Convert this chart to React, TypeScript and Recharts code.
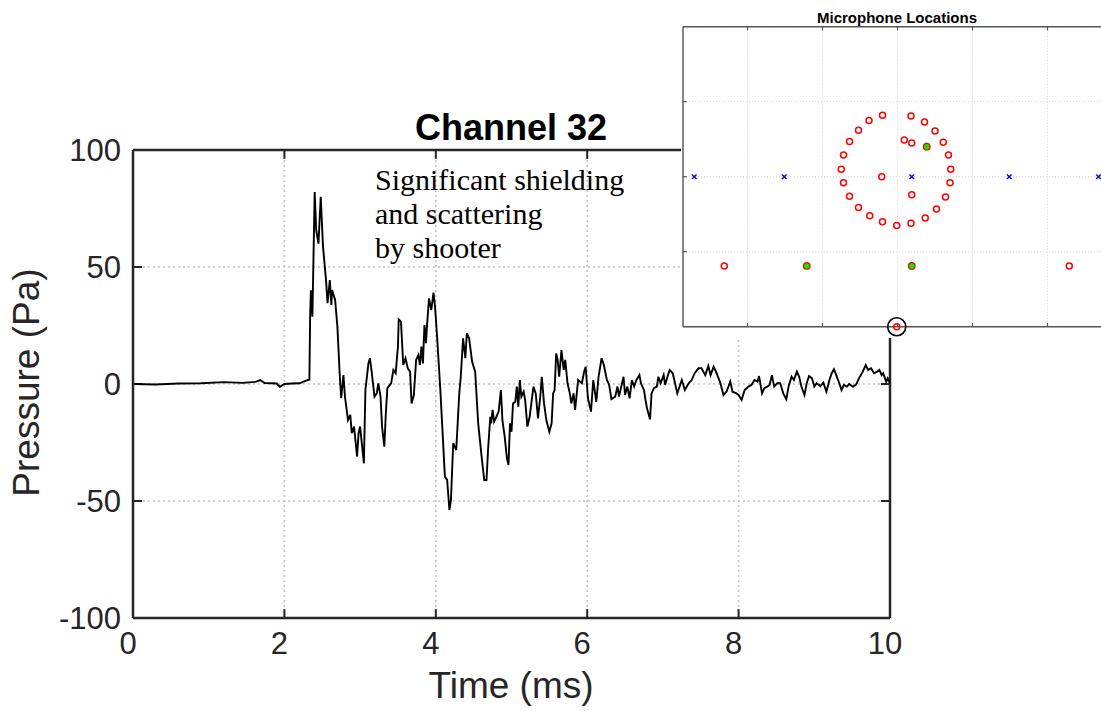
import React from 'react';
import {
  LineChart,
  Line,
  XAxis,
  YAxis,
  CartesianGrid,
  ReferenceLine,
  ScatterChart,
  Scatter,
} from 'recharts';

// ---------- main trace data (Channel 32) ----------
const timeMs = [
  0, 0.3, 0.6, 0.9, 1.2, 1.45, 1.62, 1.68, 1.74, 1.9, 1.94, 2.0, 2.1, 2.2, 2.27, 2.31, 2.33,
  2.34, 2.35, 2.37, 2.4, 2.42, 2.45, 2.48, 2.51, 2.55, 2.57, 2.6, 2.62, 2.63, 2.67, 2.7, 2.73,
  2.75, 2.78, 2.8, 2.84, 2.87, 2.89, 2.92, 2.96, 2.98, 3.0, 3.05, 3.07, 3.11, 3.13, 3.15, 3.19,
  3.22, 3.24, 3.27, 3.29, 3.32, 3.34, 3.36, 3.41, 3.44, 3.47, 3.5, 3.51, 3.54, 3.57, 3.6, 3.63,
  3.66, 3.68, 3.71, 3.74, 3.77, 3.79, 3.81, 3.83, 3.85, 3.87, 3.88, 3.91, 3.94, 3.97, 3.99, 4.02,
  4.06, 4.09, 4.12, 4.15, 4.18, 4.2, 4.23, 4.25, 4.27, 4.31, 4.33, 4.36, 4.39, 4.41, 4.44, 4.48,
  4.52, 4.56, 4.61, 4.64, 4.67, 4.69, 4.72, 4.73, 4.75, 4.77, 4.8, 4.83, 4.86, 4.88, 4.91, 4.94,
  4.96, 4.98, 5.0, 5.02, 5.05, 5.07, 5.09, 5.11, 5.13, 5.16, 5.18, 5.21, 5.24, 5.29, 5.32, 5.35,
  5.38, 5.4, 5.43, 5.46, 5.5, 5.53, 5.55, 5.57, 5.59, 5.61, 5.63, 5.66, 5.69, 5.71, 5.74, 5.77,
  5.79, 5.82, 5.84, 5.88, 5.93, 5.96, 5.98, 6.01, 6.05, 6.08, 6.12, 6.15, 6.19, 6.22, 6.26, 6.29,
  6.32, 6.37, 6.4, 6.42, 6.46, 6.48, 6.5, 6.53, 6.56, 6.59, 6.62, 6.65, 6.69, 6.71, 6.75, 6.77,
  6.79, 6.83, 6.85, 6.88, 6.92, 6.94, 6.97, 7.01, 7.03, 7.06, 7.09, 7.13, 7.16, 7.19, 7.25, 7.29,
  7.34, 7.38, 7.42, 7.47, 7.51, 7.56, 7.6, 7.63, 7.67, 7.71, 7.76, 7.8, 7.84, 7.89, 7.92, 7.97,
  8.0, 8.04, 8.08, 8.13, 8.17, 8.21, 8.25, 8.27, 8.31, 8.34, 8.38, 8.41, 8.44, 8.47, 8.51, 8.55,
  8.59, 8.63, 8.66, 8.7, 8.73, 8.77, 8.8, 8.83, 8.87, 8.9, 8.93, 8.97, 9.0, 9.03, 9.08, 9.12,
  9.16, 9.2, 9.23, 9.26, 9.29, 9.33, 9.36, 9.39, 9.43, 9.46, 9.51, 9.55, 9.59, 9.64, 9.68, 9.71,
  9.75, 9.79, 9.83, 9.86, 9.89, 9.91, 9.95, 9.97, 10.0,
];
const pressurePa = [
  0, -0.2, 0.2, 0.3, 0.8, 0.5, 0.9, 1.7, 0.4, 0.2, -1.2, 0.0, 0.2, 0.3, 1.2, 1.7, 1.8,
  28.8, 40, 28.8, 82, 65.8, 60, 80, 58.7, 44.4, 34.5, 44.4, 33.8, 40.2, 35.9, 24.5, 4.6,
  -6.1, 3.8, -5.4, -15.4, -13.2, -21, -18.2, -31, -21, -18.2, -33.9, -2.6, 8.8, 11, 6, -5.4,
  -4, 0.3, -5.4, -18.2, -26.8, -12.5, -1.8, 0.3, 6, 4.6, 16, 27.6, 26.6, 8.1, 11, 6.7,
  5.3, -8.3, -4.7, 10.3, 12.4, 8.1, 16, 8.8, 25.2, 17.4, 23.1, 36.6, 31.6, 39, 33, 18.8,
  -2.6, -21, -39.6, -41, -53.8, -49.6, -25.3, -26.8, -28.2, -4, 3.1, 19.5, 11, 21.7, 19.5, 9.5,
  5.3, -16.8, -32.5, -41, -41, -28.2, -14, -16.8, -11.1, -16.1, -14, -11.8, -2.6, -15.4, -22.5, -31.8,
  -34.6, -16.8, -20.4, -8.3, -7.6, -1.1, -9.7, 1.7, -5.4, -3.3, -6.8, -18.2, -14, -1.1, -4, -14.7,
  -5.4, 3.1, -8.3, -15.4, -20.4, -16.8, -4, -2.6, 13.1, 10.3, 3.1, 14.5, 6, 10.3, 0.3, -4,
  -8.3, -4, -11.1, 1.7, 0.3, 5.3, 7.4, -6.1, -11.8, 1.7, -7.6, 3.1, 11, 8.1, 1.7, -0.4,
  -6.5, -5.4, -1.1, -5.4, 0.3, 3.1, -4.7, -1.1, -6.1, 1.7, -1.1, 1.7, 3.8, 0.3, -2.6, -6.8,
  -10.4, -15.1, -4, -1.8, -1.1, 3.1, 0.3, 3.8, -0.4, 3.1, 6, 4.6, 0.3, -4, 1.7, -2.6,
  0.3, 1.7, 4.6, 6.7, 6.7, 3.8, 7.7, 3.8, 7.4, 4.6, 0.3, -4.7, -3.3, 1, -3.3, -4,
  -4.7, -6.8, -2.6, -1.1, -0.4, 1.7, 1, 3.4, -4, -1.8, -1.1, -0.4, 3.8, -1.1, 0.3, 0.3,
  -4, -6.5, -1.1, 3.1, 1.7, 5.3, 3.1, -1.1, -4.7, 0.3, 3.4, 2.4, -1.1, 0.3, -0.9, 0.6,
  -3.3, 1.7, 4.6, 6.3, 3.8, 0.3, -2.6, -0.4, -1.1, 0, -1.1, -0.4, 2.4, 5.3, 8.1, 6,
  6.7, 4.6, 5.3, 6, 3.8, 4.6, 1, 2.4, 0.3,
];
const xTicks = [0, 2, 4, 6, 8, 10];
const yTicks = [-100, -50, 0, 50, 100];
const xInnerTicks = [2, 4, 6, 8];
const yInnerTicks = [-50, 0, 50];

// ---------- inset: microphone locations ----------
const micRedX = [
  -0.2, 0.18, -0.38, 0.36, -0.52, 0.5, -0.64, 0.61, -0.72, 0.68, -0.75, 0.71, -0.72, 0.7, -0.64, 0.64,
  -0.52, 0.52, -0.37, 0.37, -0.2, 0.18, -0.01, 0.09, 0.19, -0.21, 0.19, -2.31, 2.29,
];
const micRedY = [
  0.82, 0.81, 0.75, 0.73, 0.62, 0.61, 0.47, 0.46, 0.29, 0.29, 0.1, 0.1, -0.08, -0.08, -0.26, -0.27,
  -0.41, -0.43, -0.52, -0.55, -0.6, -0.62, -0.65, 0.49, 0.45, 0.0, -0.24, -1.19, -1.19,
];
const micGreenX = [0.39, -1.21, 0.19];
const micGreenY = [0.4, -1.19, -1.19];
const sourceX = [-2.71, -1.51, 0.19, 1.49, 2.68];
const sourceY = [0, 0, 0, 0, 0];
const selectedX = [-0.01];
const selectedY = [-2.0];
const insetXTicks = [-2, -1, 0, 1, 2];
const insetYTicks = [-1, 0, 1];

const SANS = '"Liberation Sans", Arial, Helvetica, sans-serif';
const SERIF = '"Liberation Serif", "Times New Roman", serif';
const AX = '#262626';

const lineData = timeMs.map((t, i) => ({ t, p: pressurePa[i] }));
const zip = (xs: number[], ys: number[]) => xs.map((x, i) => ({ x, y: ys[i] }));
const redData = zip(micRedX, micRedY);
const greenData = zip(micGreenX, micGreenY);
const blueData = zip(sourceX, sourceY);
const selData = zip(selectedX, selectedY);

const RedShape = (p: any) => (
  <circle cx={p.cx} cy={p.cy} r={3} fill="none" stroke="#ff0000" strokeWidth={1.5} />
);
const GreenShape = (p: any) => (
  <circle cx={p.cx} cy={p.cy} r={3.3} fill="#00ee00" stroke="#ff0000" strokeWidth={1.2} />
);
const BlueShape = (p: any) => (
  <g stroke="#0000ff" strokeWidth={1.4}>
    <line x1={p.cx - 2.3} y1={p.cy - 2.3} x2={p.cx + 2.3} y2={p.cy + 2.3} />
    <line x1={p.cx - 2.3} y1={p.cy + 2.3} x2={p.cx + 2.3} y2={p.cy - 2.3} />
  </g>
);
const SelShape = (p: any) => (
  <g>
    <circle cx={p.cx} cy={p.cy} r={3} fill="none" stroke="#ff0000" strokeWidth={1.5} />
    <circle cx={p.cx} cy={p.cy} r={9} fill="none" stroke="#000" strokeWidth={1.6} />
  </g>
);

const TICK_X = 0.12; // inward tick length in ms
const TICK_Y = 3.8; // inward tick length in Pa
const ITICK = 0.05; // inset tick length

export default function App() {
  return (
    <div
      style={{
        position: 'absolute',
        left: 0,
        top: 0,
        width: 1101,
        height: 711,
        overflow: 'hidden',
        background: '#fff',
      }}
    >
      <div style={{ position: 'absolute', left: 0, top: 0 }}>
        <LineChart
          width={1101}
          height={711}
          data={lineData}
          margin={{ top: 150, right: 211, bottom: 63, left: 73 }}
        >
          <CartesianGrid stroke="#c4c4c4" strokeDasharray="2 3" strokeWidth={1.6} />
          <XAxis
            type="number"
            dataKey="t"
            domain={[0, 10]}
            ticks={xTicks}
            interval={0}
            height={30}
            tickSize={0}
            tickLine={false}
            tickMargin={14}
            axisLine={{ stroke: AX, strokeWidth: 2.5 }}
            tick={{ fontSize: 31, fill: AX, fontFamily: SANS, dx: -5 }}
          />
          <YAxis
            type="number"
            domain={[-100, 100]}
            ticks={yTicks}
            interval={0}
            width={60}
            tickSize={0}
            tickLine={false}
            tickMargin={12}
            axisLine={{ stroke: AX, strokeWidth: 2.5 }}
            tick={{ fontSize: 31, fill: AX, fontFamily: SANS }}
          />
          <ReferenceLine y={100} stroke={AX} strokeWidth={2.5} />
          <ReferenceLine x={10} stroke={AX} strokeWidth={2.5} />
          {xInnerTicks.map((v) => (
            <ReferenceLine
              key={'bt' + v}
              segment={[{ x: v, y: -100 }, { x: v, y: -100 + TICK_Y }]}
              stroke={AX}
              strokeWidth={2}
            />
          ))}
          {xInnerTicks.map((v) => (
            <ReferenceLine
              key={'tt' + v}
              segment={[{ x: v, y: 100 }, { x: v, y: 100 - TICK_Y }]}
              stroke={AX}
              strokeWidth={2}
            />
          ))}
          {yInnerTicks.map((v) => (
            <ReferenceLine
              key={'lt' + v}
              segment={[{ x: 0, y: v }, { x: TICK_X, y: v }]}
              stroke={AX}
              strokeWidth={2}
            />
          ))}
          {yInnerTicks.map((v) => (
            <ReferenceLine
              key={'rt' + v}
              segment={[{ x: 10 - TICK_X, y: v }, { x: 10, y: v }]}
              stroke={AX}
              strokeWidth={2}
            />
          ))}
          <Line
            type="linear"
            dataKey="p"
            stroke="#000"
            strokeWidth={1.9}
            dot={false}
            isAnimationActive={false}
          />
        </LineChart>
      </div>

      {/* title */}
      <div
        style={{
          position: 'absolute',
          left: 311,
          width: 400,
          top: 110,
          textAlign: 'center',
          fontFamily: SANS,
          fontWeight: 'bold',
          fontSize: 36,
          lineHeight: 1,
          color: '#000',
          whiteSpace: 'nowrap',
        }}
      >
        Channel 32
      </div>

      {/* annotation */}
      <div
        style={{
          position: 'absolute',
          left: 375,
          top: 163,
          fontFamily: SERIF,
          fontSize: 30,
          lineHeight: '34px',
          color: '#000',
          whiteSpace: 'nowrap',
        }}
      >
        Significant shielding
        <br />
        and scattering
        <br />
        by shooter
      </div>

      {/* axis labels */}
      <div
        style={{
          position: 'absolute',
          left: 311,
          width: 400,
          top: 667,
          textAlign: 'center',
          fontFamily: SANS,
          fontSize: 37,
          lineHeight: 1,
          color: AX,
          whiteSpace: 'nowrap',
        }}
      >
        Time (ms)
      </div>
      <div
        style={{
          position: 'absolute',
          left: 26 - 200,
          width: 400,
          top: 382 - 18.5,
          height: 37,
          textAlign: 'center',
          fontFamily: SANS,
          fontSize: 37,
          lineHeight: 1,
          color: AX,
          whiteSpace: 'nowrap',
          transform: 'rotate(-90deg)',
        }}
      >
        Pressure (Pa)
      </div>

      {/* inset */}
      <div
        style={{
          position: 'absolute',
          left: 681,
          top: 0,
          width: 440,
          height: 338,
          background: '#fff',
        }}
      >
        <ScatterChart
          width={440}
          height={338}
          margin={{ top: 26.7, right: 9, bottom: 11.3, left: 2 }}
        >
          <XAxis type="number" dataKey="x" domain={[-2.86, 2.86]} ticks={insetXTicks} hide />
          <YAxis type="number" dataKey="y" domain={[-2, 2]} ticks={insetYTicks} hide />
          <CartesianGrid stroke="#d4d4d4" strokeDasharray="1 2" strokeWidth={1} />
          <ReferenceLine x={-2.86} stroke="#555" strokeWidth={1.4} />
          <ReferenceLine y={-2} stroke="#555" strokeWidth={1.4} />
          <ReferenceLine y={2} stroke="#555" strokeWidth={1.4} />
          {insetXTicks.map((v) => (
            <ReferenceLine
              key={'ib' + v}
              segment={[{ x: v, y: -2 }, { x: v, y: -2 + ITICK }]}
              stroke="#555"
              strokeWidth={1.2}
            />
          ))}
          {insetXTicks.map((v) => (
            <ReferenceLine
              key={'it' + v}
              segment={[{ x: v, y: 2 }, { x: v, y: 2 - ITICK }]}
              stroke="#555"
              strokeWidth={1.2}
            />
          ))}
          {insetYTicks.map((v) => (
            <ReferenceLine
              key={'il' + v}
              segment={[{ x: -2.86, y: v }, { x: -2.86 + ITICK, y: v }]}
              stroke="#555"
              strokeWidth={1.2}
            />
          ))}
          <Scatter data={blueData} shape={BlueShape} isAnimationActive={false} />
          <Scatter data={redData} shape={RedShape} isAnimationActive={false} />
          <Scatter data={greenData} shape={GreenShape} isAnimationActive={false} />
          <Scatter data={selData} shape={SelShape} isAnimationActive={false} />
        </ScatterChart>
        <div
          style={{
            position: 'absolute',
            left: 216 - 150,
            width: 300,
            top: 9.5,
            textAlign: 'center',
            fontFamily: SANS,
            fontWeight: 'bold',
            fontSize: 15,
            lineHeight: 1,
            color: '#000',
            whiteSpace: 'nowrap',
          }}
        >
          Microphone Locations
        </div>
      </div>
    </div>
  );
}
